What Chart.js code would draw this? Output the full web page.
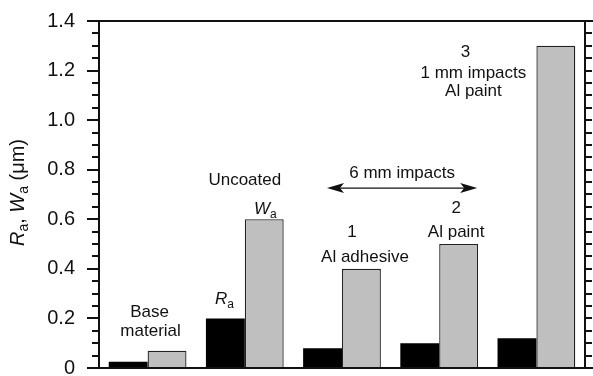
<!DOCTYPE html>
<html>
<head>
<meta charset="utf-8">
<script src="https://cdn.jsdelivr.net/npm/chart.js@4/dist/chart.umd.min.js"></script>
<style>
  html, body { margin: 0; padding: 0; background: #fff; }
  #wrap { width: 593px; height: 376px; position: relative; }
</style>
</head>
<body>
<div id="wrap"><canvas id="chart"></canvas></div>
<script>
// Surface roughness (Ra) and waviness (Wa) for each specimen group
const categories = ['Base material', 'Uncoated', '1 Al adhesive', '2 Al paint', '3 1 mm impacts Al paint'];
const raValues = [0.025, 0.20, 0.08, 0.10, 0.12];
const waValues = [0.07, 0.60, 0.40, 0.50, 1.30];
const yTickValues = [0, 0.2, 0.4, 0.6, 0.8, 1.0, 1.2, 1.4];

// Caption lines written above each group
const groupCaptions = [
  ['Base', 'material'],
  ['Uncoated'],
  ['1', 'Al adhesive'],
  ['2', 'Al paint'],
  ['3', '1 mm impacts', 'Al paint']
];
const rangeCaption = '6 mm impacts';

const FAMILY = '"Liberation Sans", Arial, Helvetica, sans-serif';
const INK = '#111';

// Where each caption line sits: offset (px) from the category centre, height in axis units
const captionPlacement = [
  [{ dx: 2, v: 0.226 }, { dx: 3, v: 0.149 }],
  [{ dx: 0, v: 0.758 }],
  [{ dx: 10, v: 0.549 }, { dx: 23, v: 0.448 }],
  [{ dx: 17, v: 0.646 }, { dx: 17, v: 0.549 }],
  [{ dx: -71, v: 1.275 }, { dx: -63, v: 1.190 }, { dx: -63, v: 1.118 }]
];

function drawSegments(ctx, segs, cx, cy, size) {
  // segs: [{t, italic, sub}] drawn centred on (cx, cy)
  const subSize = Math.round(size * 0.68);
  const fontFor = s => (s.italic ? 'italic ' : '') + (s.sub ? subSize : size) + 'px ' + FAMILY;
  let total = 0;
  const widths = segs.map(s => { ctx.font = fontFor(s); const w = ctx.measureText(s.t).width; total += w; return w; });
  let x = cx - total / 2;
  ctx.textAlign = 'left';
  ctx.textBaseline = 'middle';
  segs.forEach((s, i) => {
    ctx.font = fontFor(s);
    ctx.fillText(s.t, x, cy + (s.sub ? size * 0.3 : 0));
    x += widths[i];
  });
}

const framePlugin = {
  id: 'frame',
  afterDatasetsDraw(chart) {
    const { ctx, chartArea: a, scales: { x, y } } = chart;
    const W = chart.width;
    ctx.save();
    ctx.strokeStyle = INK;
    ctx.fillStyle = INK;
    ctx.lineWidth = 2;
    ctx.lineCap = 'butt';

    // frame
    ctx.beginPath();
    ctx.moveTo(a.left, a.top); ctx.lineTo(a.left, a.bottom);
    ctx.moveTo(a.right, a.top); ctx.lineTo(a.right, a.bottom);
    ctx.moveTo(a.left - 12, a.top); ctx.lineTo(W, a.top);
    ctx.moveTo(a.left - 12, a.bottom); ctx.lineTo(W, a.bottom);
    ctx.stroke();

    // major and minor tick marks, outward on both sides
    ctx.beginPath();
    for (let k = 0; k <= 28; k++) {
      const py = Math.round(y.getPixelForValue(k * 0.05));
      const len = k % 4 === 0 ? 12 : 7;
      ctx.moveTo(a.left - len, py); ctx.lineTo(a.left, py);
      if (k > 0 && k < 28) { ctx.moveTo(a.right, py); ctx.lineTo(a.right + 7, py); }
    }
    ctx.stroke();

    // group captions
    ctx.textAlign = 'center';
    ctx.textBaseline = 'middle';
    ctx.font = '17px ' + FAMILY;
    groupCaptions.forEach((lines, i) => {
      const cx = x.getPixelForValue(i);
      lines.forEach((t, j) => {
        const p = captionPlacement[i][j];
        ctx.fillText(t, cx + p.dx, y.getPixelForValue(p.v));
      });
    });

    // series names beside the uncoated bars
    const barR = chart.getDatasetMeta(0).data[1];
    const barW = chart.getDatasetMeta(1).data[1];
    drawSegments(ctx, [{ t: 'R', italic: true }, { t: 'a', sub: true }], barR.x - 1, barR.y - 19, 17);
    drawSegments(ctx, [{ t: 'W', italic: true }, { t: 'a', sub: true }], barW.x + 1, barW.y - 10, 17);

    // double-headed arrow spanning the 6 mm impact groups
    const x1 = x.getPixelForValue(2) - 15;
    const x2 = x.getPixelForValue(3) + 38;
    const ay = y.getPixelForValue(0.726);
    ctx.lineWidth = 1.3;
    ctx.beginPath();
    ctx.moveTo(x1 + 8, ay); ctx.lineTo(x2 - 8, ay);
    ctx.stroke();
    ctx.beginPath();
    ctx.moveTo(x1, ay); ctx.lineTo(x1 + 17, ay - 5); ctx.lineTo(x1 + 13, ay); ctx.lineTo(x1 + 17, ay + 5); ctx.closePath();
    ctx.moveTo(x2, ay); ctx.lineTo(x2 - 17, ay - 5); ctx.lineTo(x2 - 13, ay); ctx.lineTo(x2 - 17, ay + 5); ctx.closePath();
    ctx.fill();
    ctx.font = '17px ' + FAMILY;
    ctx.textAlign = 'center';
    ctx.fillText(rangeCaption, (x1 + x2) / 2, y.getPixelForValue(0.787));

    // y-axis title
    ctx.save();
    ctx.translate(18, (a.top + a.bottom) / 2 - 2);
    ctx.rotate(-Math.PI / 2);
    drawSegments(ctx, [
      { t: 'R', italic: true }, { t: 'a', sub: true }, { t: ', ' },
      { t: 'W', italic: true }, { t: 'a', sub: true }, { t: ' (\u03bcm)' }
    ], 0, 0, 20);
    ctx.restore();

    ctx.restore();
  }
};

new Chart(document.getElementById('chart'), {
  type: 'bar',
  data: {
    labels: categories,
    datasets: [
      { label: 'Ra', data: raValues, backgroundColor: '#000', borderWidth: 0,
        categoryPercentage: 0.8, barPercentage: 1.0 },
      { label: 'Wa', data: waValues, backgroundColor: '#bfbfbf', borderColor: '#222', borderWidth: 1.3,
        borderSkipped: 'start', categoryPercentage: 0.8, barPercentage: 1.0 }
    ]
  },
  options: {
    responsive: true,
    maintainAspectRatio: false,
    animation: false,
    devicePixelRatio: 1,
    layout: { padding: { left: 0, right: 8, top: 21, bottom: 8 } },
    plugins: { legend: { display: false }, tooltip: { enabled: false } },
    scales: {
      x: { display: false, offset: true },
      y: {
        min: 0, max: 1.4,
        grid: { display: false, drawTicks: false },
        border: { display: false },
        afterBuildTicks: s => { s.ticks = yTickValues.map(v => ({ value: v })); },
        ticks: {
          padding: 24,
          color: INK,
          font: { family: FAMILY, size: 20 },
          callback: v => (v === 0 ? '0' : Number(v).toFixed(1))
        },
        afterFit: s => { s.width = 99; s.paddingTop = 0; s.paddingBottom = 0; }
      }
    }
  },
  plugins: [framePlugin]
});
</script>
</body>
</html>
